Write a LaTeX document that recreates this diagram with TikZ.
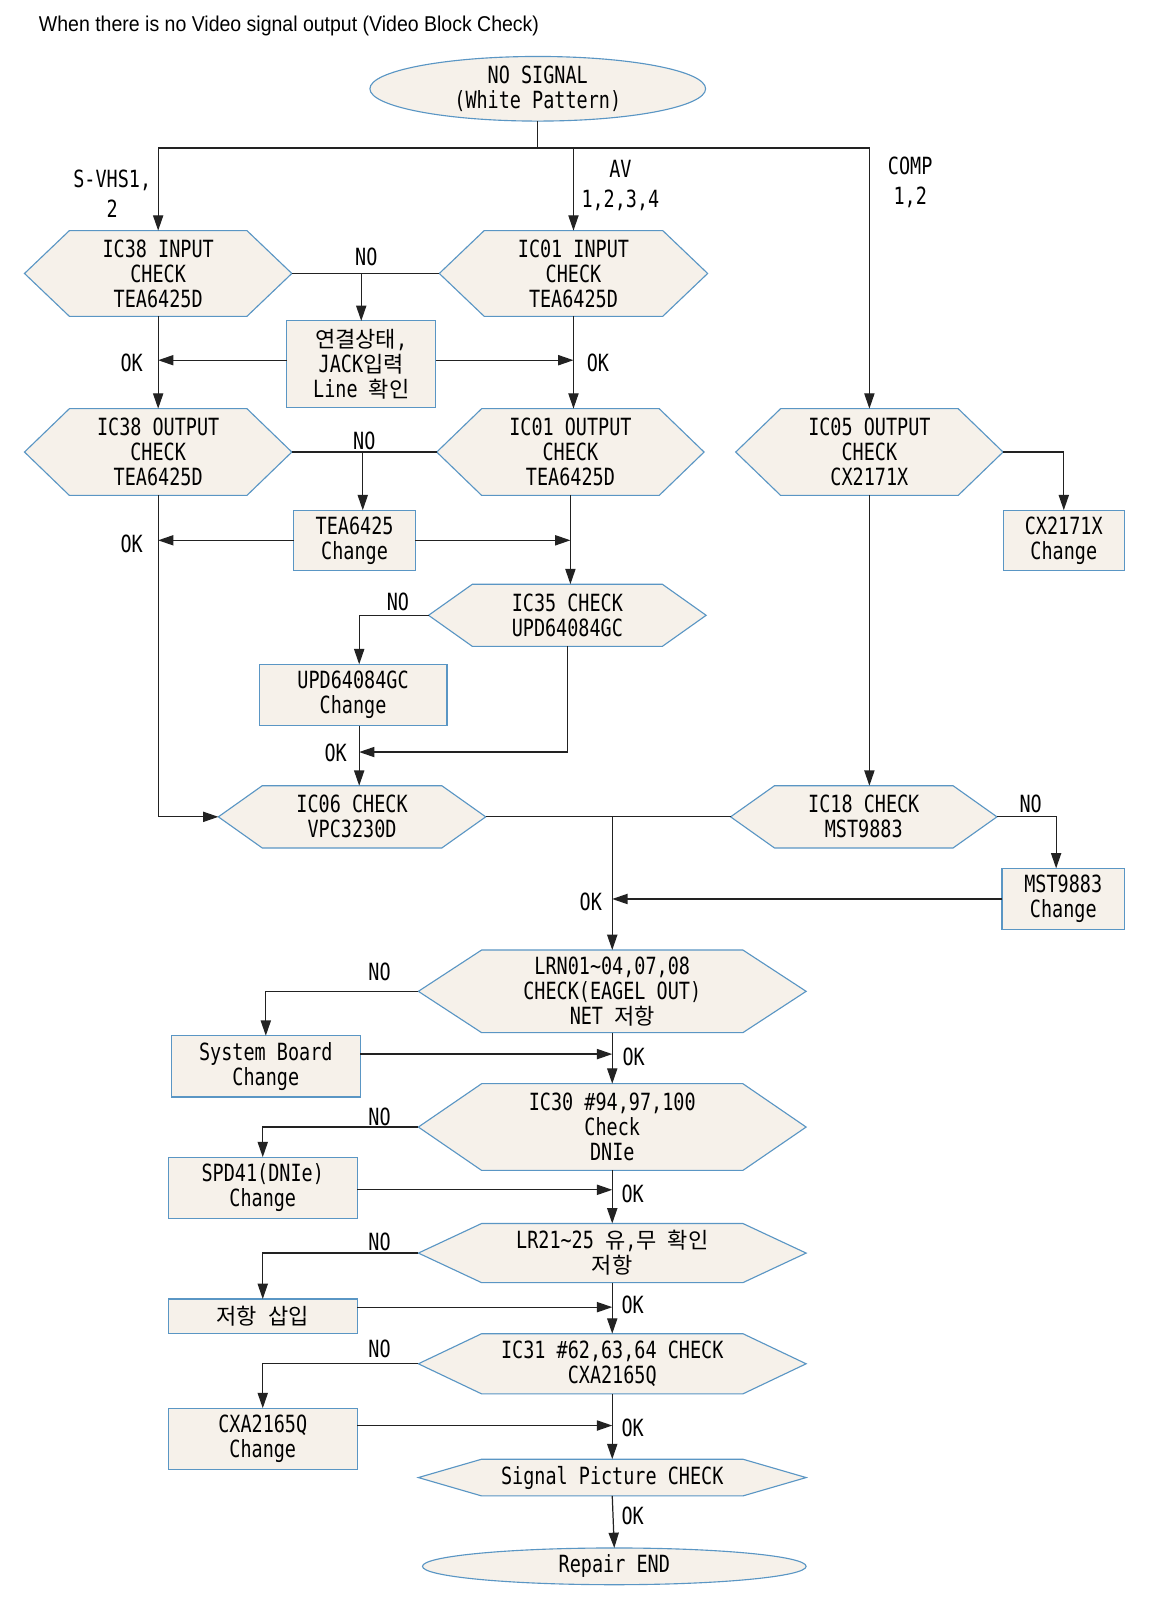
\documentclass[tikz,border=0pt]{standalone}
\usepackage{fontspec}
\usetikzlibrary{arrows.meta,shapes.geometric,backgrounds,calc}
\newfontfamily\monof[FakeStretch=0.78]{DejaVu Sans Mono}
\newfontfamily\krf[Scale=0.93]{Noto Sans CJK KR}
\newfontfamily\ttlf[FakeStretch=0.91]{Liberation Sans}
\newcommand\K[1]{{\krf #1}}
\definecolor{fillc}{HTML}{F6F1EA}
\definecolor{edgec}{HTML}{5A96C4}
\definecolor{linec}{HTML}{222222}
\tikzset{
  txt/.style={font=\monof\fontsize{23.2}{24.5}\selectfont, align=center, inner sep=0pt, outer sep=0pt},
  hexbox/.style={txt, rectangle},
  boxn/.style={txt, rectangle, draw=edgec, fill=fillc, line width=1.1pt},
  term/.style={txt, ellipse, draw=edgec, fill=fillc, line width=1.1pt},
  lbl/.style={txt},
  lbltwo/.style={txt, font=\monof\fontsize{23.2}{29}\selectfont},
  conn/.style={draw=linec, line width=1.2pt},
  arr/.style={conn, -{Triangle[length=15pt,width=10pt]}},
  hexline/.style={draw=edgec, fill=fillc, line width=1.1pt},
}
\newcommand\hexn[6]{%
  \node[hexbox, minimum width=#3pt, minimum height=#4pt] (#1) at (#2) {#6};
  \begin{pgfonlayer}{background}
  \path[hexline] (#1.west) -- ([xshift=#5pt]#1.north west) -- ([xshift=-#5pt]#1.north east)
    -- (#1.east) -- ([xshift=-#5pt]#1.south east) -- ([xshift=#5pt]#1.south west) -- cycle;
  \end{pgfonlayer}}
\begin{document}
\begin{tikzpicture}[x=1pt,y=-1pt]
\begin{pgfonlayer}{background}
\path[use as bounding box, fill=white] (0,0) rectangle (1136.8,1568);
\end{pgfonlayer}

\node[font=\ttlf\fontsize{21}{24}\selectfont, anchor=west, inner sep=0pt] (title) at (38,25) {When there is no Video signal output (Video Block Check)};

\node[term, minimum width=329pt, minimum height=60pt] (start) at (527,87) {NO SIGNAL\\(White Pattern)};
\coordinate (top) at (527,145);

\hexn{ic38in}{155,268}{262}{84}{44}{IC38 INPUT\\CHECK\\TEA6425D}
\hexn{ic01in}{562,268}{263}{84}{44}{IC01 INPUT\\CHECK\\TEA6425D}
\node[boxn, minimum width=146pt, minimum height=85pt] (chk) at (354,357) {\K{연결상태},\\JACK\K{입력}\\Line \K{확인}};
\hexn{ic38out}{155,443}{262}{85}{44}{IC38 OUTPUT\\CHECK\\TEA6425D}
\hexn{ic01out}{559,443}{262}{85}{44}{IC01 OUTPUT\\CHECK\\TEA6425D}
\hexn{ic05out}{852,443}{262}{85}{44}{IC05 OUTPUT\\CHECK\\CX2171X}
\node[boxn, minimum width=119pt, minimum height=59pt] (tea) at (347.5,529.5) {TEA6425\\Change};
\node[boxn, minimum width=119pt, minimum height=59pt] (cx) at (1042.5,529.5) {CX2171X\\Change};
\hexn{ic35}{556,603}{272}{61}{43}{IC35 CHECK\\UPD64084GC}
\node[boxn, minimum width=184pt, minimum height=60pt] (upd) at (346,681) {UPD64084GC\\Change};
\hexn{ic06}{345,800.5}{262}{61}{43}{IC06 CHECK\\VPC3230D}
\hexn{ic18}{846.5,800.5}{261}{61}{43}{IC18 CHECK\\MST9883}
\node[boxn, minimum width=120pt, minimum height=60pt] (mst) at (1042,881) {MST9883\\Change};
\hexn{lrn}{600,971.5}{380}{81}{62}{LRN01\textasciitilde 04,07,08\\CHECK(EAGEL OUT)\\NET \K{저항}}
\node[boxn, minimum width=185pt, minimum height=60pt] (sb) at (260.5,1045) {System Board\\Change};
\hexn{ic30}{600,1104.5}{380}{85}{62}{IC30 \#94,97,100\\Check\\DNIe}
\node[boxn, minimum width=185pt, minimum height=60pt] (spd) at (257.5,1164) {SPD41(DNIe)\\Change};
\hexn{lr21}{600,1228}{380}{58}{62}{LR21\textasciitilde 25 \K{유},\K{무} \K{확인}\\\K{저항}}
\node[boxn, minimum width=185pt, minimum height=34pt] (sap) at (257.5,1290) {\K{저항} \K{삽입}};
\hexn{ic31}{600,1336.5}{380}{59}{62}{IC31 \#62,63,64 CHECK\\CXA2165Q}
\node[boxn, minimum width=185pt, minimum height=60pt] (cxa) at (257.5,1410) {CXA2165Q\\Change};
\hexn{sig}{600,1448}{380}{36}{62}{Signal Picture CHECK}
\node[term, minimum width=376pt, minimum height=36pt] (fin) at (602,1535) {Repair END};

% labels
\node[lbltwo] (lsvhs) at (110,190) {S-VHS1,\\2};
\node[lbltwo] (lav) at (608,182) {AV\\1,2,3,4};
\node[lbltwo] (lcomp) at (892,179) {COMP\\1,2};
\node[lbl] (no1) at (359,252) {NO};
\node[lbl] (no2) at (357,432) {NO};
\node[lbl] (no3) at (390,590) {NO};
\node[lbl] (no4) at (1010,788) {NO};
\node[lbl] (no5) at (372,952) {NO};
\node[lbl] (no6) at (372,1095) {NO};
\node[lbl] (no7) at (372,1217) {NO};
\node[lbl] (no8) at (372,1322) {NO};
\node[lbl] (ok1) at (129,356) {OK};
\node[lbl] (ok2) at (586,356) {OK};
\node[lbl] (ok3) at (129,533) {OK};
\node[lbl] (ok4) at (329,738) {OK};
\node[lbl] (ok5) at (579,884) {OK};
\node[lbl] (ok6) at (621,1036) {OK};
\node[lbl] (ok7) at (620,1170) {OK};
\node[lbl] (ok8) at (620,1279) {OK};
\node[lbl] (ok9) at (620,1399) {OK};
\node[lbl] (ok10) at (620,1486) {OK};

% connectors
\draw[conn] (start.south) -- (top);
\draw[arr] (top) -| (ic38in.north);
\draw[arr] (top) -| (ic01in.north);
\draw[arr] (top) -| (ic05out.north);
\draw[conn] (ic38in.east) -- (ic01in.west);
\draw[arr] (chk.north |- ic38in.east) -- (chk.north);
\draw[arr] ([yshift=4pt]chk.west) -- ([yshift=4pt]chk.west -| ic38in.south);
\draw[arr] ([yshift=4pt]chk.east) -- ([yshift=4pt]chk.east -| ic01in.south);
\draw[arr] (ic38in.south) -- (ic38out.north);
\draw[arr] (ic01in.south) -- (ic01in.south |- ic01out.north);
\draw[conn] (ic38out.east) -- (ic01out.west);
\draw[arr] ([xshift=8pt]tea.north |- ic38out.east) -- ([xshift=8pt]tea.north);
\draw[arr] (tea.west) -- (tea.west -| ic38out.south);
\draw[arr] (tea.east) -- (tea.east -| ic01out.south);
\draw[arr] (ic01out.south) -- (ic01out.south |- ic35.north);
\draw[arr] (ic35.west) -| ([xshift=6pt]upd.north);
\coordinate (okA) at (352,737);
\draw[arr] (ic35.south) |- (okA);
\draw[arr] ([xshift=6pt]upd.south) -- ([xshift=6pt]upd.south |- ic06.north);
\draw[arr] (ic38out.south) |- (ic06.west);
\draw[arr] (ic05out.east) -| (cx.north);
\draw[arr] (ic05out.south) -- (ic05out.south |- ic18.north);
\draw[conn] (ic06.east) -- (ic18.west);
\draw[arr] (ic18.east) -| ([xshift=-7pt]mst.north);
\coordinate (j2) at (600,800.5);
\draw[arr] (j2) -- (lrn.north);
\draw[arr] (mst.west) -- (mst.west -| j2);
\draw[arr] (lrn.west) -| (sb.north);
\draw[arr] ([yshift=12pt]sb.east) -- ([yshift=12pt]sb.east -| lrn.south);
\draw[arr] (lrn.south) -- (ic30.north);
\draw[arr] (ic30.west) -| (spd.north);
\draw[arr] ([yshift=-2pt]spd.east) -- ([yshift=-2pt]spd.east -| ic30.south);
\draw[arr] (ic30.south) -- (lr21.north);
\draw[arr] (lr21.west) -| (sap.north);
\draw[arr] ([yshift=9pt]sap.east) -- ([yshift=9pt]sap.east -| lr21.south);
\draw[arr] (lr21.south) -- (ic31.north);
\draw[arr] (ic31.west) -| (cxa.north);
\draw[arr] ([yshift=13pt]cxa.east) -- ([yshift=13pt]cxa.east -| ic31.south);
\draw[arr] (ic31.south) -- (sig.north);
\draw[arr] (sig.south) -- (fin.north);
\end{tikzpicture}
\end{document}
